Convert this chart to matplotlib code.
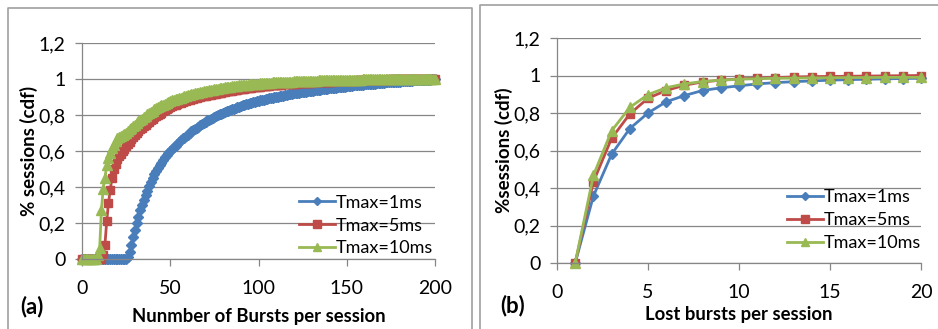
import matplotlib
matplotlib.use("Agg")
import matplotlib.pyplot as plt
from matplotlib.lines import Line2D

plt.rcParams['font.family'] = ['Lato', 'DejaVu Sans']

# (a) number of bursts per session, x = 0..200
bursts_x = list(range(0, 201))

bursts_1ms = [0.0] * 26 + [
    0.01, 0.04, 0.08, 0.12, 0.16, 0.20, 0.235, 0.27, 0.30, 0.33,
    0.355, 0.38, 0.405, 0.43, 0.45, 0.47, 0.49, 0.505, 0.52, 0.535,
    0.55, 0.565, 0.58, 0.59, 0.60, 0.61, 0.62, 0.63, 0.64, 0.65,
    0.66, 0.67, 0.675, 0.685, 0.69, 0.70, 0.71, 0.715, 0.72, 0.73,
    0.735, 0.745, 0.75, 0.755, 0.76, 0.77, 0.775, 0.78, 0.785, 0.79,
    0.795, 0.80, 0.804, 0.808, 0.812, 0.816, 0.82, 0.824, 0.828, 0.832,
    0.836, 0.84, 0.843, 0.846, 0.85, 0.853, 0.856, 0.859, 0.862, 0.865,
    0.868, 0.871, 0.874, 0.877, 0.88,
    0.882, 0.884, 0.886, 0.888, 0.89, 0.892, 0.894, 0.896, 0.898, 0.90,
    0.902, 0.904, 0.906, 0.908, 0.91, 0.912, 0.914, 0.916, 0.918, 0.92,
    0.921, 0.923, 0.924, 0.926, 0.927, 0.929, 0.93, 0.932, 0.933, 0.935,
    0.936, 0.937, 0.939, 0.94, 0.941, 0.943, 0.944, 0.945, 0.946, 0.948,
    0.949, 0.95, 0.951, 0.952, 0.954, 0.955, 0.956, 0.957, 0.958, 0.96,
    0.961, 0.962, 0.963, 0.964, 0.965, 0.966, 0.967, 0.968, 0.969, 0.97,
    0.971, 0.972, 0.973, 0.974, 0.975, 0.975, 0.976, 0.977, 0.978, 0.979,
    0.98, 0.981, 0.981, 0.982, 0.983, 0.984, 0.984, 0.985, 0.986, 0.986,
    0.987, 0.988, 0.988, 0.989, 0.99, 0.99, 0.991, 0.992, 0.992, 0.993,
    0.993, 0.994, 0.995, 0.995, 0.996, 0.997, 0.997, 0.998, 0.999, 1.0,
]

bursts_5ms = [0.0] * 12 + [
    0.02, 0.08, 0.21, 0.31, 0.385, 0.45, 0.50, 0.53, 0.555, 0.57,
    0.585, 0.60, 0.613, 0.626, 0.64, 0.652, 0.665, 0.677, 0.69, 0.70,
    0.71, 0.72, 0.73, 0.738, 0.746, 0.755, 0.763, 0.771, 0.78, 0.787,
    0.794, 0.80, 0.807, 0.813, 0.82, 0.826, 0.832, 0.838, 0.845, 0.849,
    0.853, 0.857, 0.861, 0.865, 0.869, 0.872, 0.876, 0.879, 0.883,
    0.886, 0.889, 0.891, 0.894, 0.896, 0.899, 0.901, 0.903, 0.905, 0.907,
    0.909, 0.911, 0.913, 0.915, 0.917, 0.919, 0.921, 0.923, 0.925, 0.927,
    0.929, 0.931, 0.933, 0.934, 0.936, 0.938, 0.939, 0.941, 0.942, 0.944,
    0.945, 0.946, 0.948, 0.949, 0.95, 0.952, 0.953, 0.954, 0.955, 0.957,
    0.958, 0.959, 0.96, 0.961, 0.962, 0.963, 0.964, 0.965, 0.966, 0.967,
    0.968, 0.968, 0.969, 0.97, 0.971, 0.971, 0.972, 0.973, 0.974, 0.974,
    0.975, 0.976, 0.976, 0.977, 0.977, 0.978, 0.979, 0.979, 0.98, 0.98,
    0.981, 0.981, 0.982, 0.982, 0.983, 0.983, 0.984, 0.984, 0.985, 0.985,
    0.986, 0.986, 0.987, 0.987, 0.988, 0.988, 0.988, 0.989, 0.989, 0.99,
    0.99, 0.99, 0.991, 0.991, 0.991, 0.992, 0.992, 0.992, 0.993, 0.993,
    0.993, 0.994, 0.994, 0.994, 0.995, 0.995, 0.995, 0.996, 0.996, 0.996,
    0.997, 0.997, 0.997, 0.997, 0.998, 0.998, 0.998, 0.999, 0.999, 0.999,
    1.0, 1.0, 1.0, 1.0, 1.0, 1.0, 1.0, 1.0, 1.0, 1.0,
    1.0, 1.0, 1.0, 1.0, 1.0, 1.0, 1.0, 1.0, 1.0, 1.0,
]

bursts_10ms = [0.0] * 9 + [
    0.02, 0.06, 0.27, 0.39, 0.45, 0.52, 0.56, 0.59, 0.615, 0.635, 0.655, 0.67,
    0.677, 0.684, 0.69, 0.696, 0.70, 0.71, 0.72, 0.728, 0.737, 0.746,
    0.755, 0.764, 0.772, 0.78, 0.788, 0.796, 0.804, 0.811, 0.818, 0.825,
    0.831, 0.837, 0.843, 0.848, 0.853, 0.858, 0.863, 0.868, 0.873, 0.877,
    0.881, 0.885, 0.888, 0.891, 0.894, 0.897, 0.90, 0.903, 0.906, 0.909,
    0.912, 0.915, 0.917, 0.92, 0.922, 0.924, 0.927, 0.929, 0.931, 0.933,
    0.935, 0.937, 0.939, 0.941, 0.943, 0.945, 0.947, 0.948, 0.95, 0.951,
    0.953, 0.954, 0.956, 0.957, 0.959, 0.96, 0.961, 0.962, 0.964, 0.965,
    0.966, 0.967, 0.968, 0.969, 0.97, 0.971, 0.972, 0.973, 0.974, 0.975,
    0.976, 0.977, 0.977, 0.978, 0.979, 0.979, 0.98, 0.981, 0.981, 0.982,
    0.982, 0.983, 0.983, 0.984, 0.984, 0.985, 0.985, 0.986, 0.986, 0.987,
    0.987, 0.987, 0.988, 0.988, 0.989, 0.989, 0.989, 0.99, 0.99, 0.99,
    0.991, 0.991, 0.991, 0.992, 0.992, 0.992, 0.993, 0.993, 0.993, 0.993,
    0.994, 0.994, 0.994, 0.994, 0.995, 0.995, 0.995, 0.995, 0.996, 0.996,
    0.996, 0.996, 0.996, 0.997, 0.997, 0.997, 0.997, 0.997, 0.998, 0.998,
    0.998, 0.998, 0.998, 0.998, 0.998, 0.999, 0.999, 0.999, 0.999, 0.999,
    0.999, 0.999, 0.999, 0.999, 0.999, 0.999, 0.999, 0.999, 0.999, 0.999,
    1.0, 1.0, 1.0, 1.0, 1.0, 1.0, 1.0, 1.0, 1.0, 1.0,
    1.0, 1.0, 1.0, 1.0, 1.0, 1.0, 1.0, 1.0, 1.0, 1.0,
]

# (b) lost bursts per session, x = 1..20
lost_x = list(range(1, 21))
lost_1ms = [0.0, 0.357, 0.58, 0.717, 0.80, 0.86, 0.893, 0.92, 0.934, 0.945,
            0.955, 0.962, 0.967, 0.971, 0.975, 0.978, 0.98, 0.982, 0.984, 0.985]
lost_5ms = [0.0, 0.433, 0.665, 0.795, 0.879, 0.92, 0.948, 0.966, 0.975, 0.982,
            0.986, 0.989, 0.992, 0.994, 0.995, 0.996, 0.997, 0.998, 0.999, 1.0]
lost_10ms = [0.0, 0.467, 0.705, 0.83, 0.898, 0.935, 0.955, 0.968, 0.975, 0.98,
             0.983, 0.985, 0.986, 0.987, 0.988, 0.989, 0.989, 0.99, 0.99, 0.99]

labels = ['Tmax=1ms', 'Tmax=5ms', 'Tmax=10ms']
colors = ['#4a7ebb', '#be4b48', '#98b954']
markers = ['D', 's', '^']
msizes = [5, 6, 6.5]
yticks = [0, 0.2, 0.4, 0.6, 0.8, 1.0, 1.2]
ytick_labels = ['0', '0,2', '0,4', '0,6', '0,8', '1', '1,2']
grey = '#868686'

fig = plt.figure(figsize=(9.38, 3.29), dpi=100)


def style_axes(ax, xmax, xstep):
    ax.set_xlim(0, xmax)
    ax.set_ylim(0, 1.2)
    ax.set_xticks(range(0, xmax + 1, xstep))
    ax.set_yticks(yticks)
    ax.set_yticklabels(ytick_labels)
    ax.grid(axis='y', color=grey, linewidth=0.9)
    ax.set_axisbelow(True)
    for s in ['top', 'right']:
        ax.spines[s].set_visible(False)
    for s in ['left', 'bottom']:
        ax.spines[s].set_color(grey)
        ax.spines[s].set_linewidth(0.9)
    ax.tick_params(direction='out', length=5, color=grey, labelsize=14,
                   width=0.9)
    ax.tick_params(axis='y', pad=7)
    ax.tick_params(axis='x', pad=10)


def draw(ax, x, series, legend_xy):
    for y, lab, c, m, ms in zip(series, labels, colors, markers, msizes):
        ax.plot(x, y, color=c, marker=m, markersize=ms, markeredgecolor=c,
                linewidth=2, label=lab, clip_on=False)
    ax.legend(loc='center left', bbox_to_anchor=legend_xy, frameon=False,
              fontsize=13, handlelength=2.0, handletextpad=0.05,
              labelspacing=0.38, borderpad=0, borderaxespad=0,
              markerscale=0.9)


ax1 = fig.add_axes([82 / 938, 70 / 329, 353 / 938, 216 / 329])
style_axes(ax1, 200, 50)
draw(ax1, bursts_x, [bursts_1ms, bursts_5ms, bursts_10ms], (0.615, 0.155))
ax1.set_xlabel('Nunmber of Bursts per session', fontsize=13.3, fontweight='bold',
               labelpad=8)
ax1.set_ylabel('% sessions (cdf)', fontsize=13.5, fontweight='bold', labelpad=0)

ax2 = fig.add_axes([557 / 938, 66 / 329, 364 / 938, 225 / 329])
style_axes(ax2, 20, 5)
draw(ax2, lost_x, [lost_1ms, lost_5ms, lost_10ms], (0.632, 0.19))
ax2.set_xlabel('Lost bursts per session', fontsize=13.3, fontweight='bold',
               labelpad=4)
ax2.set_ylabel('%sessions (cdf)', fontsize=13.5, fontweight='bold', labelpad=0)

fig.text(20 / 938, 1 - 307 / 329, '(a)', fontsize=16, fontweight='bold',
         va='center')
fig.text(500 / 938, 1 - 306 / 329, '(b)', fontsize=16, fontweight='bold',
         va='center')

# panel frames
fc = '#a0a0a0'
def fline(xs, ys):
    fig.add_artist(Line2D([v / 938 for v in xs], [1 - v / 329 for v in ys],
                          color=fc, linewidth=1.2, transform=fig.transFigure))

fline([8, 8, 472, 472], [329, 8, 8, 329])
fline([480, 480, 938], [329, 5, 5])

fig.savefig('out.png', dpi=100)
